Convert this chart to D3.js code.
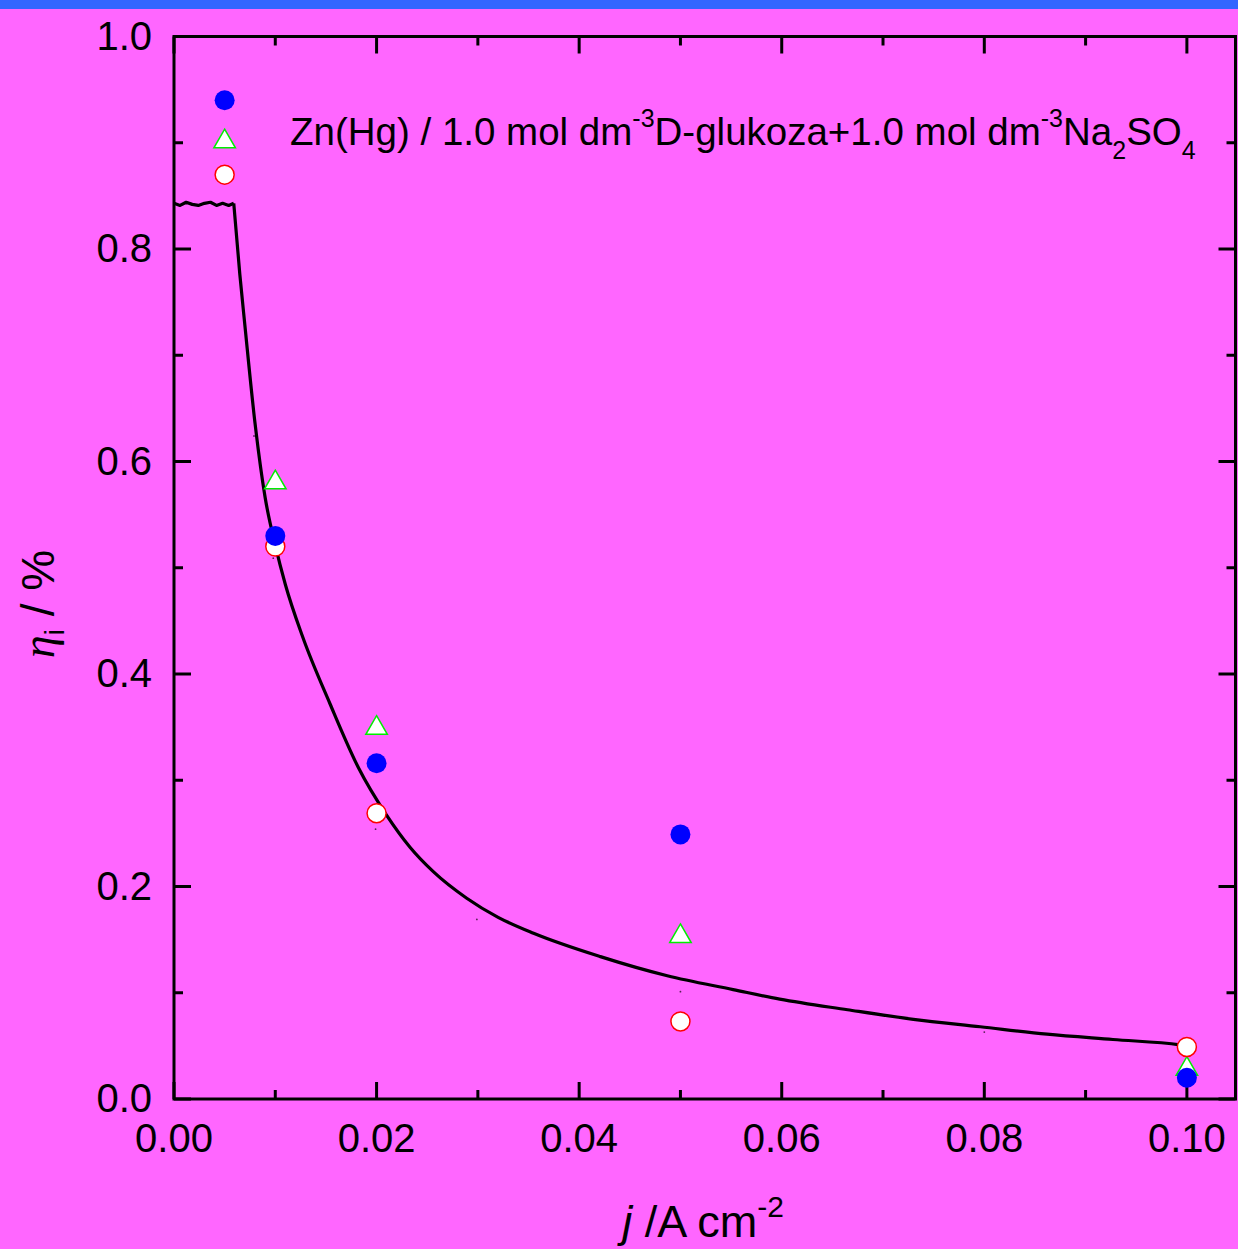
<!DOCTYPE html>
<html>
<head>
<meta charset="utf-8">
<script src="https://cdn.jsdelivr.net/npm/d3@7/dist/d3.min.js"></script>
<style>
  html, body { margin: 0; padding: 0; background: #FF66FF; }
  svg { display: block; }
  text { font-family: "Liberation Sans", Arial, sans-serif; fill: #000; }
</style>
</head>
<body>
<script>
// ---- data ----
const jValues = [0.005, 0.01, 0.02, 0.05, 0.10];
const seriesBlue = [0.940, 0.530, 0.316, 0.249, 0.020];   // filled blue circles
const seriesGreen = [0.903, 0.582, 0.351, 0.155, 0.030];  // open green triangles
const seriesRed = [0.870, 0.520, 0.269, 0.073, 0.049];    // open red circles

const plateauJ = [0.0000, 0.0006, 0.0012, 0.0018, 0.0024, 0.0030, 0.0036, 0.0042, 0.0048, 0.0054, 0.0059];
const plateauEta = [0.843, 0.841, 0.844, 0.842, 0.841, 0.843, 0.844, 0.841, 0.843, 0.841, 0.843];

const curveJ = [0.0059, 0.0065, 0.0070, 0.0080, 0.0090, 0.0100, 0.0110, 0.0127, 0.0154, 0.0182,
  0.0210, 0.0233, 0.0256, 0.0289, 0.0320, 0.0355, 0.0421, 0.0487, 0.0552,
  0.0598, 0.0665, 0.0730, 0.0796, 0.0862, 0.0927, 0.0993, 0.1000];
const curveEta = [0.843, 0.776, 0.728, 0.636, 0.566, 0.521, 0.484, 0.435, 0.372, 0.312,
  0.267, 0.237, 0.214, 0.189, 0.171, 0.156, 0.134, 0.116, 0.103,
  0.094, 0.084, 0.075, 0.068, 0.061, 0.056, 0.051, 0.050];

const dotJ = [0.0079, 0.0098, 0.0199, 0.0299, 0.0500, 0.0800];
const dotEta = [0.624, 0.509, 0.254, 0.169, 0.101, 0.063];

const xTicks = [0.00, 0.02, 0.04, 0.06, 0.08, 0.10];
const xTickLabels = ["0.00", "0.02", "0.04", "0.06", "0.08", "0.10"];
const xMinor = [0.01, 0.03, 0.05, 0.07, 0.09];
const yTicks = [0.0, 0.2, 0.4, 0.6, 0.8, 1.0];
const yTickLabels = ["0.0", "0.2", "0.4", "0.6", "0.8", "1.0"];
const yMinor = [0.1, 0.3, 0.5, 0.7, 0.9];

// ---- layout ----
const W = 1238, H = 1249;
const L = 174, R = 1235.5, T = 36.5, B = 1099;

const svg = d3.select("body").append("svg").attr("width", W).attr("height", H);
svg.append("rect").attr("width", W).attr("height", H).attr("fill", "#FF66FF");
svg.append("rect").attr("width", W).attr("height", 9).attr("fill", "#3366FF");

const x = d3.scaleLinear().domain([0, 0.1048]).range([L, R]);
const y = d3.scaleLinear().domain([0, 1]).range([B, T]);

// frame
svg.append("rect").attr("x", L).attr("y", T).attr("width", R - L).attr("height", B - T)
  .attr("fill", "none").attr("stroke", "#000").attr("stroke-width", 3);

// ticks (inward, all four sides)
const tickG = svg.append("g").attr("stroke", "#000").attr("stroke-width", 3);
function xTick(v, len) {
  tickG.append("line").attr("x1", x(v)).attr("x2", x(v)).attr("y1", B).attr("y2", B - len);
  tickG.append("line").attr("x1", x(v)).attr("x2", x(v)).attr("y1", T).attr("y2", T + len);
}
function yTick(v, len) {
  tickG.append("line").attr("y1", y(v)).attr("y2", y(v)).attr("x1", L).attr("x2", L + len);
  tickG.append("line").attr("y1", y(v)).attr("y2", y(v)).attr("x1", R).attr("x2", R - len);
}
xTicks.forEach(v => xTick(v, 17));
xMinor.forEach(v => xTick(v, 9));
yTicks.forEach(v => yTick(v, 17));
yMinor.forEach(v => yTick(v, 9));

// tick labels
svg.append("g").selectAll("text").data(xTicks).join("text")
  .attr("x", d => x(d)).attr("y", 1152).attr("text-anchor", "middle")
  .attr("font-size", 40).text((d, i) => xTickLabels[i]);
svg.append("g").selectAll("text").data(yTicks).join("text")
  .attr("x", 152).attr("y", d => y(d) + 13).attr("text-anchor", "end")
  .attr("font-size", 40).text((d, i) => yTickLabels[i]);

// curve: wiggly plateau (linear) + smooth decay
const linePlateau = d3.line().x(d => x(d[0])).y(d => y(d[1])).curve(d3.curveLinear);
const lineDecay = d3.line().x(d => x(d[0])).y(d => y(d[1])).curve(d3.curveMonotoneX);
svg.append("path").datum(plateauJ.map((j, i) => [j, plateauEta[i]]))
  .attr("d", linePlateau).attr("fill", "none").attr("stroke", "#000").attr("stroke-width", 3.2)
  .attr("stroke-linejoin", "round");
svg.append("path").datum(curveJ.map((j, i) => [j, curveEta[i]]))
  .attr("d", lineDecay).attr("fill", "none").attr("stroke", "#000").attr("stroke-width", 3.2)
  .attr("stroke-linejoin", "round");

// tiny dots
svg.append("g").selectAll("circle").data(dotJ).join("circle")
  .attr("cx", d => x(d)).attr("cy", (d, i) => y(dotEta[i])).attr("r", 0.9).attr("fill", "#552255");

// markers
const tri = d3.symbol().type(d3.symbolTriangle).size(200);
svg.append("g").selectAll("path").data(jValues).join("path")
  .attr("transform", (d, i) => `translate(${x(d)},${y(seriesGreen[i]) + 2})`)
  .attr("d", tri).attr("fill", "#fff").attr("stroke", "#00EE00").attr("stroke-width", 1.5);
svg.append("g").selectAll("circle").data(jValues).join("circle")
  .attr("cx", d => x(d)).attr("cy", (d, i) => y(seriesRed[i])).attr("r", 9.5)
  .attr("fill", "#fff").attr("stroke", "#FF0000").attr("stroke-width", 1.5);
svg.append("g").selectAll("circle").data(jValues).join("circle")
  .attr("cx", d => x(d)).attr("cy", (d, i) => y(seriesBlue[i])).attr("r", 10)
  .attr("fill", "#0000FF");

// legend / annotation text
const leg = svg.append("text").attr("x", 290).attr("y", 145).attr("font-size", 38.5);
leg.append("tspan").text("Zn(Hg) / 1.0 mol dm");
leg.append("tspan").attr("font-size", 25).attr("dy", -18).text("-3");
leg.append("tspan").attr("dy", 18).text("D-glukoza+1.0 mol dm");
leg.append("tspan").attr("font-size", 25).attr("dy", -18).text("-3");
leg.append("tspan").attr("dy", 18).text("Na");
leg.append("tspan").attr("font-size", 25).attr("dy", 14).text("2");
leg.append("tspan").attr("dy", -14).text("SO");
leg.append("tspan").attr("font-size", 25).attr("dy", 14).text("4");

// x axis title
const xt = svg.append("text").attr("x", 703).attr("y", 1237).attr("text-anchor", "middle").attr("font-size", 45);
xt.append("tspan").attr("font-style", "italic").text("j");
xt.append("tspan").text(" /A cm");
xt.append("tspan").attr("font-size", 30).attr("dy", -20).text("-2");

// y axis title
const yt = svg.append("text").attr("transform", "translate(54,604) rotate(-90)")
  .attr("text-anchor", "middle").attr("font-size", 46);
yt.append("tspan").attr("font-style", "italic").attr("font-family", "'Liberation Serif', serif").text("η");
yt.append("tspan").attr("font-size", 28).attr("dy", 10).text("i");
yt.append("tspan").attr("dy", -10).text(" / %");
</script>
</body>
</html>
